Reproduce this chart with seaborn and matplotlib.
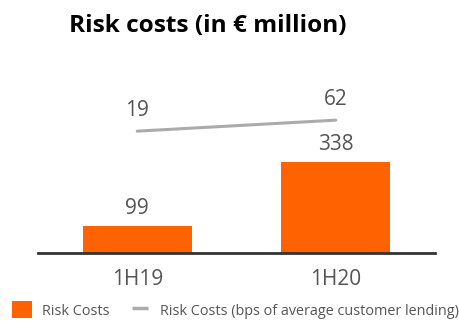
import matplotlib
matplotlib.use("Agg")
import matplotlib.pyplot as plt
import seaborn as sns
import pandas as pd
from matplotlib.patches import Patch
from matplotlib.lines import Line2D

categories = ["1H19", "1H20"]
risk_costs = [99, 338]
risk_bps = [19, 62]
title = "Risk costs (in € million)"
legend_labels = ["Risk Costs", "Risk Costs (bps of average customer lending)"]

ORANGE = "#FF6200"
GRAY_LINE = "#ABABAB"
TXT = "#555555"

sns.set_theme(style="white")
plt.rcParams["font.family"] = ["Open Sans", "DejaVu Sans"]

fig = plt.figure(figsize=(4.6, 3.21), dpi=100)
ax = fig.add_axes([38/460, 1-253/321, (435-38)/460, (253-60)/321])

df = pd.DataFrame({"cat": categories, "cost": risk_costs, "bps": risk_bps})
sns.barplot(data=df, x="cat", y="cost", color=ORANGE, width=0.55, ax=ax,
            saturation=1, edgecolor="none")
ax.set_ylim(0, 717)
ax.set_xlim(-0.5, 1.5)
for c in ax.containers:
    ax.bar_label(c, labels=[str(v) for v in risk_costs], padding=5,
                 fontsize=15, color=TXT)

ax2 = ax.twinx()
sns.lineplot(x=list(range(len(categories))), y=risk_bps, ax=ax2, color=GRAY_LINE,
             linewidth=2.2)
ax2.set_ylim(-457, 297)
ax2.set_xlim(-0.5, 1.5)
for i, v in enumerate(risk_bps):
    ax2.annotate(str(v), (i, v), xytext=(0, 7), textcoords="offset points",
                 ha="center", va="bottom", fontsize=15, color=TXT)

for a in (ax, ax2):
    for s in ["top", "right", "left"]:
        a.spines[s].set_visible(False)
    a.set_yticks([])
    a.set_ylabel("")
    a.set_xlabel("")
ax2.spines["bottom"].set_visible(False)
ax.spines["bottom"].set_color("#333333")
ax.spines["bottom"].set_linewidth(2)
ax.tick_params(axis="x", length=0, pad=11.5, labelsize=15, labelcolor=TXT)

fig.text(69/460, 1-26/321, title, fontsize=17.6, fontweight="bold",
         color="black", va="center", ha="left")

handles = [Patch(facecolor=ORANGE, edgecolor="none"),
           Line2D([0], [0], color=GRAY_LINE, marker="_", linestyle="none",
                  markersize=12, markeredgewidth=2.5)]
fig.legend(handles, legend_labels, loc="center left",
           bbox_to_anchor=(12/460, 1-310/321), ncol=2, frameon=False,
           fontsize=10.4, labelcolor=TXT, handlelength=1.4, handleheight=1.4,
           handletextpad=0.65, columnspacing=1.45, borderpad=0, borderaxespad=0)

fig.savefig("out.png", dpi=100)
